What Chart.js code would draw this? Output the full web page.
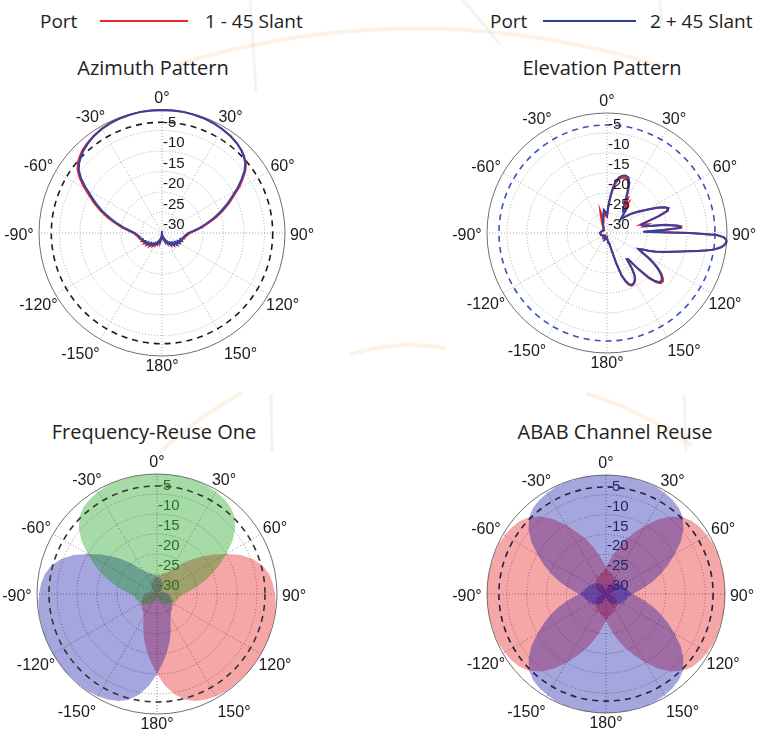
<!DOCTYPE html>
<html>
<head>
<meta charset="utf-8">
<script src="https://cdn.jsdelivr.net/npm/chart.js@4.4.1/dist/chart.umd.min.js"></script>
<style>
  html, body { margin: 0; padding: 0; background: #fff; }
  body { width: 760px; height: 732px; position: relative; overflow: hidden;
         font-family: "Open Sans", "DejaVu Sans", sans-serif; color: #222; }
  canvas { position: absolute; }
  svg.mark { position: absolute; left: 0; top: 0; }
  .title { position: absolute; font-size: 20px; line-height: 26px; white-space: nowrap;
           transform: translate(-50%, -50%); }
  .leg { position: absolute; font-size: 19px; line-height: 24px; white-space: nowrap; top: 9px; }
  .swatch { position: absolute; height: 2px; top: 20px; }
</style>
</head>
<body>
  <!-- faint background emblem -->
  <svg class="mark" width="760" height="732" viewBox="0 0 760 732">
    <g fill="none" stroke="rgba(250,190,130,0.2)" stroke-width="4" stroke-linecap="round">
      <path d="M178 64 Q 420 -8 662 66"/>
      <path d="M352 354 Q 398 340 444 348"/>
      <path d="M240 394 Q 196 418 160 452"/>
      <path d="M588 394 Q 640 410 690 444"/>
    </g>
    <g fill="none" stroke="rgba(200,200,200,0.22)" stroke-width="3">
      <path d="M250 0 L 256 92"/>
      <path d="M463 0 L 500 44"/>
      <path d="M660 0 L 662 30"/>
      <path d="M271 394 L 272 452"/>
      <path d="M684 394 L 686 452"/>
    </g>
  </svg>

  <div class="leg" style="left:40px">Port</div>
  <div class="swatch" style="left:100px;width:88px;background:#e8262d"></div>
  <div class="leg" style="left:205px">1 - 45 Slant</div>
  <div class="leg" style="left:490px">Port</div>
  <div class="swatch" style="left:543px;width:93px;background:#2f3d8f"></div>
  <div class="leg" style="left:650px">2 + 45 Slant</div>

  <div class="title" style="left:153px;top:68px">Azimuth Pattern</div>
  <div class="title" style="left:602px;top:68px">Elevation Pattern</div>
  <div class="title" style="left:154px;top:432px">Frequency-Reuse One</div>
  <div class="title" style="left:615px;top:432px">ABAB Channel Reuse</div>

  <canvas id="az"></canvas>
  <canvas id="el"></canvas>
  <canvas id="fr1"></canvas>
  <canvas id="abab"></canvas>

<script>
// ---- scale definitions -------------------------------------------------
const DB_MIN = -30, DB_MAX = 0;
const RING_TICKS = [-5, -10, -15, -20, -25, -30];
const ANGLE_TICKS = [0, 30, 60, 90, 120, 150, 180, -150, -120, -90, -60, -30];
const HALF_POWER_DB = -3;
const DEGREES = Array.from({ length: 360 }, (_, i) => i);   // one spoke per degree

// ---- measured patterns: [angle in degrees clockwise from 0°, level in dB] ----
const AZ_PORT1 = [
  [-180,-30.4],[-176,-29.0],[-172,-28.6],[-168,-27.7],[-164,-28.2],[-160,-27.2],[-156,-27.6],[-152,-26.6],
  [-148,-27.0],[-144,-26.1],[-140,-26.6],[-136,-25.6],[-132,-26.2],[-128,-25.2],[-124,-25.8],[-120,-24.9],
  [-116,-25.4],[-112,-24.6],[-108,-25.0],[-104,-24.3],[-100,-24.2],[-95,-23.7],[-90,-23.1],[-86,-21.8],
  [-82,-20.1],[-78,-18.3],[-74,-16.2],[-70,-14.0],[-66,-11.8],[-62,-9.6],[-59,-7.6],[-56,-5.7],
  [-53,-4.2],[-50,-3.2],[-47,-2.6],[-44,-2.0],[-40,-1.5],[-35,-1.0],[-30,-0.6],[-25,-0.35],[-20,-0.2],
  [-15,-0.1],[-10,0],[-5,0],[0,0],[5,0],[10,0],[15,-0.1],[20,-0.2],[25,-0.4],[30,-0.7],
  [35,-1.0],[40,-1.5],[44,-2.0],[47,-2.6],[50,-3.3],[53,-4.5],[56,-6.2],[59,-7.9],[62,-9.9],
  [66,-12.1],[70,-14.3],[74,-16.4],[78,-18.5],[82,-20.2],[86,-21.9],[90,-23.2],[95,-23.8],
  [100,-24.3],[104,-24.4],[108,-25.1],[112,-24.7],[116,-25.5],[120,-25.0],[124,-25.9],[128,-25.3],
  [132,-26.3],[136,-25.8],[140,-26.8],[144,-26.3],[148,-27.3],[152,-27.0],[156,-28.0],[160,-27.7],
  [164,-28.6],[168,-28.5],[172,-29.3],[176,-29.6]
];
const AZ_PORT2 = [
  [-180,-30.5],[-176,-29.4],[-172,-28.9],[-168,-28.0],[-164,-28.3],[-160,-27.5],[-156,-27.6],[-152,-26.9],
  [-148,-27.1],[-144,-26.4],[-140,-26.7],[-136,-25.9],[-132,-26.3],[-128,-25.5],[-124,-25.9],[-120,-25.2],
  [-116,-25.5],[-112,-24.9],[-108,-25.1],[-104,-24.6],[-100,-24.5],[-95,-24.0],[-90,-23.4],[-86,-22.2],
  [-82,-20.6],[-78,-18.8],[-74,-16.8],[-70,-14.6],[-66,-12.4],[-62,-10.2],[-59,-8.2],[-56,-6.2],
  [-53,-4.6],[-50,-3.6],[-47,-2.9],[-44,-2.3],[-40,-1.7],[-35,-1.1],[-30,-0.7],[-25,-0.4],[-20,-0.2],
  [-15,-0.1],[-10,0],[-5,0],[0,0],[5,0],[10,0],[15,-0.1],[20,-0.2],[25,-0.4],[30,-0.7],
  [35,-1.0],[40,-1.5],[44,-2.1],[47,-2.7],[50,-3.5],[53,-4.8],[56,-6.6],[59,-8.4],[62,-10.4],
  [66,-12.6],[70,-14.8],[74,-16.9],[78,-18.9],[82,-20.6],[86,-22.3],[90,-23.6],[95,-24.2],
  [100,-24.6],[104,-24.7],[108,-25.3],[112,-24.9],[116,-25.7],[120,-25.2],[124,-26.1],[128,-25.5],
  [132,-26.5],[136,-26.0],[140,-26.9],[144,-26.5],[148,-27.5],[152,-27.2],[156,-28.2],[160,-27.9],
  [164,-28.8],[168,-28.7],[172,-29.5],[176,-29.8]
];

// elevation cut: 0° = zenith, 90° = horizon, 180° = nadir
const EL_PORT1 = [
  [0,-26],[3,-23.5],[5,-21.5],[7,-19.5],[9,-17.8],[12,-16.3],[15,-15.7],[18,-15.4],[21,-15.6],[24,-16.8],
  [27,-19],[29,-20.5],[31,-19.8],[33,-21.5],[35,-20.6],[37,-22.8],[39,-22],[42,-24],[45,-25],[48,-23.8],
  [51,-22.4],[54,-21.2],[57,-19.8],[60,-18.2],[63,-16],[66,-14.2],[68,-13.6],[70,-14.2],[72,-16.6],
  [74,-19.6],[76,-21.4],[78,-19.5],[80,-20.6],[82,-15.4],[84,-12.2],[85,-11.3],[86,-11.4],[87,-15.6],
  [88,-20.5],[89,-17.4],[90,-9.4],[91,-2.9],[92,-1.0],[93,-0.3],[94,-0.1],[95,-0.3],[96,-0.7],[97,-1.3],
  [98,-2.2],[99,-3.4],[100,-5.0],[101,-6.7],[102,-8.4],[103,-9.8],[104,-11.0],[105,-12.1],[107,-14.0],
  [109,-15.6],[111,-17.1],[113,-18.7],[115,-20.4],[117,-21.0],[119,-19.6],[121,-17.6],[123,-15.8],
  [125,-14.2],[127,-12.9],[129,-12.0],[131,-11.5],[133,-11.6],[135,-12.6],[137,-14.6],[139,-17.8],
  [141,-21.2],[143,-21.6],[145,-19],[147,-17.2],[149,-16.3],[151,-15.8],[153,-15.5],[155,-15.5],
  [157,-16.0],[159,-17.0],[161,-18.6],[163,-22.0],[165,-25.4],[168,-27.6],[172,-27.6],[176,-28.4],
  [180,-29],[190,-28.8],[200,-28.4],[210,-29.2],[220,-28.5],[235,-29.0],[250,-28.5],[270,-28.3],
  [290,-28.7],[310,-28.8],[325,-28.3],[335,-27],[340,-25.5],[343,-24.2],[346,-26.5],[350,-25.4],
  [354,-24.6],[357,-25.8]
];
const EL_PORT2 = [
  [0,-25.5],[3,-23],[5,-21],[7,-19],[9,-17.2],[12,-15.8],[15,-15.2],[18,-14.9],[21,-15.1],[24,-16.2],
  [27,-18.4],[30,-20.8],[33,-22.6],[36,-23.2],[39,-22.4],[42,-24.2],[45,-25.2],[48,-24],[51,-22.6],
  [54,-21.4],[57,-20],[60,-18.4],[63,-16.2],[66,-14.2],[68,-13.4],[70,-13.8],[72,-16.2],[74,-19.4],
  [76,-21.2],[78,-21],[80,-20.2],[82,-15.8],[84,-12.5],[85,-11.6],[86,-11.7],[87,-16],[88,-21],
  [89,-17.8],[90,-9.0],[91,-2.5],[92,-0.8],[93,-0.2],[94,0],[95,-0.1],[96,-0.5],[97,-1.1],[98,-2.0],
  [99,-3.2],[100,-4.8],[101,-6.5],[102,-8.2],[103,-9.6],[104,-10.8],[105,-11.9],[107,-13.8],[109,-15.4],
  [111,-16.9],[113,-18.5],[115,-20.2],[117,-21.2],[119,-20.0],[121,-18.0],[123,-16.2],[125,-14.6],
  [127,-13.3],[129,-12.4],[131,-11.9],[133,-12.0],[135,-13.0],[137,-15.0],[139,-18.2],[141,-21.6],
  [143,-21.8],[145,-19.2],[147,-17.4],[149,-16.5],[151,-16.0],[153,-15.7],[155,-15.7],[157,-16.2],
  [159,-17.3],[161,-18.9],[163,-22.2],[165,-25.6],[168,-27.4],[172,-27.4],[176,-28.2],[180,-28.8],
  [190,-28.6],[200,-28.2],[210,-29],[220,-28.7],[235,-28.9],[250,-28.4],[270,-28.2],[290,-28.6],
  [310,-29],[325,-28.6],[335,-27.8],[342,-26.8],[348,-25.6],[352,-24.2],[356,-24.8]
];

// sector pattern used by every cell sector, boresight at 0°
const SECTOR_PATTERN = [
  [-180,-29.8],[-175,-28.6],[-170,-28.9],[-165,-27.8],[-160,-28.2],[-155,-27.1],[-150,-27.5],
  [-145,-26.4],[-140,-26.9],[-135,-25.9],[-130,-26.3],[-125,-25.4],[-120,-25.8],[-115,-25.0],
  [-110,-25.3],[-105,-24.6],[-100,-24.5],[-95,-24.0],[-90,-23.3],[-85,-21.9],[-80,-20.0],[-75,-17.8],
  [-70,-15.4],[-65,-12.8],[-60,-10.0],[-55,-7.0],[-50,-4.5],[-45,-2.6],[-40,-1.5],[-35,-0.9],
  [-30,-0.5],[-25,-0.2],[-20,-0.1],[-10,0],[0,0],[10,0],[20,-0.1],[25,-0.2],[30,-0.5],[35,-0.9],
  [40,-1.5],[45,-2.6],[50,-4.5],[55,-7.0],[60,-10.0],[65,-12.8],[70,-15.4],[75,-17.8],[80,-20.0],
  [85,-21.9],[90,-23.3],[95,-24.0],[100,-24.5],[105,-24.6],[110,-25.3],[115,-25.0],[120,-25.8],
  [125,-25.4],[130,-26.3],[135,-25.9],[140,-26.9],[145,-26.4],[150,-27.5],[155,-27.1],[160,-28.2],
  [165,-27.8],[170,-28.9],[175,-28.6]
];
// sector boresights
const REUSE1_BEARINGS = { green: 0, red: 120, blue: 240 };
const ABAB_BEARINGS = { blueA: 0, redB: 90, blueA2: 180, redB2: 270 };

// place [angle, dB] pairs on the one-degree spokes (unmeasured spokes stay empty)
function onSpokes(pairs, bearing) {
  const out = new Array(360).fill(null);
  for (const [a, v] of pairs) {
    const i = ((Math.round(a + (bearing || 0)) % 360) + 360) % 360;
    out[i] = v;
  }
  return out;
}

// ---- grid decoration: ring labels, angle labels, half-power circle ----
const polarDecor = {
  id: 'polarDecor',
  beforeDatasetsDraw(chart, args, o) {
    if (!o.refOnTop) drawRef(chart, o);
  },
  afterDatasetsDraw(chart, args, o) {
    if (o.refOnTop) drawRef(chart, o);
    const s = chart.scales.r, ctx = chart.ctx;
    ctx.save();
    ctx.font = '15px "Liberation Sans", Arial, sans-serif';
    ctx.fillStyle = o.tickColor;
    ctx.textAlign = 'left';
    ctx.textBaseline = 'middle';
    RING_TICKS.forEach(v => {
      const d = s.getDistanceFromCenterForValue(v);
      ctx.fillText(String(v), s.xCenter + 1, s.yCenter - d - 8);
    });
    ctx.fillStyle = '#1a1a1a';
    ctx.font = '16px "Liberation Sans", Arial, sans-serif';
    ctx.textAlign = 'center';
    ANGLE_TICKS.forEach(a => {
      const idx = (a + 360) % 360;
      const rad = a * Math.PI / 180;
      const side = Math.abs(Math.sin(rad));
      const p = s.getPointPosition(idx, s.drawingArea + 11 + 6 * side);
      let x = p.x, y = p.y + (side > 0.1 ? 3 : 0);
      if (a < 0) x -= 3;                       // keep the minus sign clear of the rim
      if (Math.abs(a) === 150) x += Math.sign(a) * 10;
      ctx.fillText(a + '\u00B0', x, y);
    });
    ctx.restore();
  }
};
function drawRef(chart, o) {
  const s = chart.scales.r, ctx = chart.ctx;
  ctx.save();
  ctx.setLineDash([6, 5]);
  ctx.strokeStyle = o.refColor;
  ctx.lineWidth = 1.6;
  ctx.beginPath();
  ctx.arc(s.xCenter, s.yCenter, s.getDistanceFromCenterForValue(HALF_POWER_DB), 0, Math.PI * 2);
  ctx.stroke();
  ctx.restore();
}

const HALF = 180; // canvas half-size
function makePolar(id, cx, cy, radius, datasets, decor) {
  const cv = document.getElementById(id);
  cv.width = HALF * 2; cv.height = HALF * 2;
  cv.style.left = (cx - HALF) + 'px';
  cv.style.top = (cy - HALF) + 'px';
  const pad = HALF - radius;
  return new Chart(cv, {
    type: 'radar',
    data: { labels: DEGREES, datasets },
    options: {
      responsive: false,
      animation: false,
      events: [],
      layout: { padding: pad },
      elements: { point: { radius: 0, hitRadius: 0 }, line: { tension: 0 } },
      plugins: { legend: { display: false }, tooltip: { enabled: false }, polarDecor: decor },
      scales: {
        r: {
          min: DB_MIN, max: DB_MAX, startAngle: 0,
          ticks: { display: false, stepSize: 5 },
          pointLabels: { display: false },
          grid: {
            circular: true,
            color: c => (c.tick && c.tick.value === DB_MAX) ? '#6f6f6f' : decor.gridColor,
            lineWidth: 1
          },
          border: { dash: c => (c.tick && c.tick.value === DB_MAX) ? [] : [1, 2] },
          angleLines: {
            color: decor.gridColor,
            lineWidth: c => (c.index % 30 === 0 ? 1 : 0),
            borderDash: [1, 2]
          }
        }
      }
    },
    plugins: [polarDecor]
  });
}

// the first dataset is painted last (on top)
function lineSet(label, pairs, color) {
  return { label, data: onSpokes(pairs), borderColor: color, borderWidth: 2,
           fill: false, spanGaps: true, pointRadius: 0 };
}
function lobeSet(label, bearing, fillColor) {
  return { label, data: onSpokes(SECTOR_PATTERN, bearing), borderWidth: 0,
           borderColor: 'rgba(0,0,0,0)', backgroundColor: fillColor,
           fill: 'start', spanGaps: true, pointRadius: 0 };
}

const GREEN_FILL = 'rgba(0,150,0,0.35)';
const BLUE_FILL = 'rgba(0,0,160,0.35)';
const RED_FILL = 'rgba(225,0,0,0.35)';

makePolar('az', 162, 233, 123, [
  lineSet('Port 2 +45 Slant', AZ_PORT2, '#3442a0'),
  lineSet('Port 1 -45 Slant', AZ_PORT1, '#e8262d')
], { gridColor: '#ababab', tickColor: '#1a1a1a', refColor: '#1a1a1a', refOnTop: false });

makePolar('el', 607, 233, 120, [
  lineSet('Port 2 +45 Slant', EL_PORT2, '#3442a0'),
  lineSet('Port 1 -45 Slant', EL_PORT1, '#e8262d')
], { gridColor: '#ababab', tickColor: '#1a1a1a', refColor: '#3a4fc0', refOnTop: false });

makePolar('fr1', 157, 594, 120, [
  lobeSet('Sector 1', REUSE1_BEARINGS.green, GREEN_FILL),
  lobeSet('Sector 3', REUSE1_BEARINGS.blue, BLUE_FILL),
  lobeSet('Sector 2', REUSE1_BEARINGS.red, RED_FILL)
], { gridColor: '#8a8a8a', tickColor: '#2a702a', refColor: '#333', refOnTop: true });

makePolar('abab', 606, 594, 119, [
  lobeSet('A 0°', ABAB_BEARINGS.blueA, BLUE_FILL),
  lobeSet('A 180°', ABAB_BEARINGS.blueA2, BLUE_FILL),
  lobeSet('B 90°', ABAB_BEARINGS.redB, RED_FILL),
  lobeSet('B 270°', ABAB_BEARINGS.redB2, RED_FILL)
], { gridColor: '#8a8a8a', tickColor: '#24246c', refColor: '#222244', refOnTop: true });
</script>
</body>
</html>
